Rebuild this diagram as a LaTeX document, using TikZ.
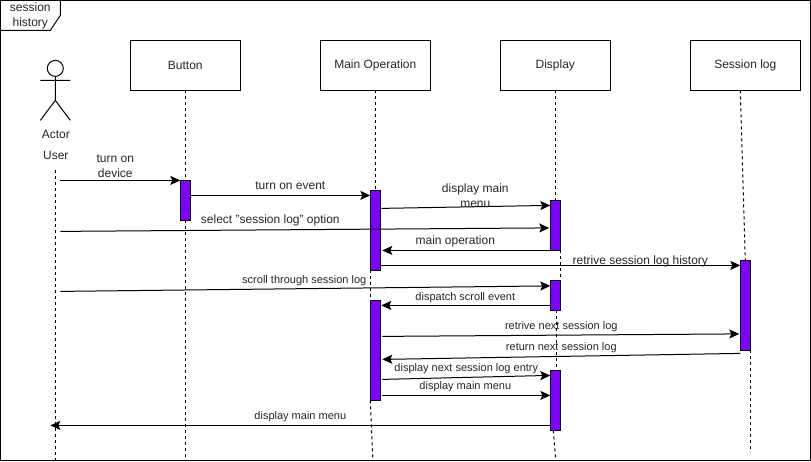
\documentclass[tikz,border=0pt]{standalone}
\usepackage{fontspec}
\setmainfont{Liberation Sans}
\usetikzlibrary{arrows.meta,positioning}
\definecolor{barpurple}{HTML}{7F00FF}
\tikzset{
    part/.style={draw, minimum width=110pt, minimum height=50pt, inner sep=0pt, outer sep=0pt, text=black!85, font=\fontsize{12}{14}\selectfont},
    bar/.style={draw, fill=barpurple, minimum width=10pt, inner sep=0pt, outer sep=0pt},
    life/.style={dash pattern=on 3pt off 3pt},
    msg/.style={line width=1pt, -{Stealth[length=10pt,width=9pt,inset=2pt]}},
    lbl/.style={inner sep=0pt, align=center, text=black!85, font=\fontsize{12}{14}\selectfont},
    small/.style={inner sep=0pt, align=center, text=black!85, font=\fontsize{11}{13}\selectfont}
}
\begin{document}
\begin{tikzpicture}[x=1pt, y=-1pt, line width=1pt]
    \useasboundingbox (-0.3,-0.4) rectangle (810.7,461.6);
    \draw (0.5,0.5) rectangle (810,460.5);
    \draw (0.5,30) -- (50,30) -- (60,15) -- (60,0.5);
    \node[lbl] (title) at (30,16) {session\\[1pt]history};

    % actor
    \draw (55,68) circle (8);
    \draw (55,76) -- (55,100) (40,80) -- (70,80) (40,120) -- (55,100) -- (70,120);
    \node[lbl] (actor) at (55.5,134) {Actor};
    \node[lbl] (user) at (55.5,155) {User};

    \node[part] (button) at (185,65) {Button};
    \node[part] (mainop) at (375,65) {Main Operation};
    \node[part] (display) at (555,65) {Display};
    \node[part] (sesslog) at (745,65) {Session log};

    \node[bar, minimum height=40pt] (btnA) at (185,200) {};
    \node[bar, minimum height=80pt] (mainA) at (375,230) {};
    \node[bar, minimum height=100pt] (mainB) at (375,350) {};
    \node[bar, minimum height=50pt] (dispA) at (555,225) {};
    \node[bar, minimum height=30pt] (dispB) at (555,295) {};
    \node[bar, minimum height=60pt] (dispC) at (555,400) {};
    \node[bar, minimum height=90pt] (logA) at (745,305) {};

    % lifelines
    \coordinate (userT) at (55,170);
    \coordinate (userE) at (55,460);
    \coordinate (btnE) at (185,460);
    \coordinate (mainE) at (372.5,460);
    \coordinate (dispE) at (555.5,460);
    \coordinate (logT) at (740,90);
    \coordinate (logE) at (750,452);
    \draw[life] (userT) -- (userE);
    \draw[life] (button) -- (btnA);
    \draw[life] (btnA) -- (btnE);
    \draw[life] (mainop) -- (mainA);
    \draw[life] (mainA.south west) -- (mainB.north west);
    \draw[life] (mainB.south west) -- (mainE);
    \draw[life] (display) -- (dispA);
    \draw[life] (dispA.south east) -- (dispB.north east);
    \draw[life] ([xshift=1pt]dispB.south) -- ([xshift=1pt]dispC.north);
    \draw[life] ([xshift=-2pt]dispC.south) -- (dispE);
    \draw[life] (logT) -- (logA.north);
    \draw[life] (logA.south east) -- (logE);

    % message ends
    \coordinate (m1a) at (60,180);    \coordinate (m1b) at (180,180);
    \coordinate (m2a) at (190,195);   \coordinate (m2b) at (370,195);
    \coordinate (m3a) at (381,208);   \coordinate (m3b) at (550,205);
    \coordinate (m4a) at (60,231);    \coordinate (m4b) at (549,227.5);
    \coordinate (m5a) at (550,250);   \coordinate (m5b) at (382,250);
    \coordinate (m6a) at (380,265);   \coordinate (m6b) at (740,265);
    \coordinate (m7a) at (60,291);    \coordinate (m7b) at (550,285.5);
    \coordinate (m8a) at (550,305);   \coordinate (m8b) at (381,305);
    \coordinate (m9a) at (382,336);   \coordinate (m9b) at (739,333.5);
    \coordinate (m10a) at (740,353);  \coordinate (m10b) at (382,359);
    \coordinate (m11a) at (382,379);  \coordinate (m11b) at (550,375);
    \coordinate (m12a) at (382,395);  \coordinate (m12b) at (550,395);
    \coordinate (m13a) at (550,425);  \coordinate (m13b) at (50,425);
    \draw[msg] (m1a) -- (m1b);
    \draw[msg] (m2a) -- (m2b);
    \draw[msg] (m3a) -- (m3b);
    \draw[msg] (m4a) -- (m4b);
    \draw[msg] (m5a) -- (m5b);
    \draw[msg] (m6a) -- (m6b);
    \draw[msg] (m7a) -- (m7b);
    \draw[msg] (m8a) -- (m8b);
    \draw[msg] (m9a) -- (m9b);
    \draw[msg] (m10a) -- (m10b);
    \draw[msg] (m11a) -- (m11b);
    \draw[msg] (m12a) -- (m12b);
    \draw[msg] (m13a) -- (m13b);

    \node[lbl] (t1) at (115,165.5) {turn on\\[1pt]device};
    \node[lbl] (t2) at (290,185.5) {turn on event};
    \node[lbl] (t3) at (475,195.5) {display main\\[1pt]menu};
    \node[lbl] (t4) at (270,220) {select "session log" option};
    \node[lbl] (t5) at (455,240.5) {main operation};
    \node[lbl] (t6) at (640,260.5) {retrive session log history};
    \node[small] (t7) at (304,280.5) {scroll through session log};
    \node[small] (t8) at (465,297) {dispatch scroll event};
    \node[small] (t9) at (561,326.5) {retrive next session log};
    \node[small] (t10) at (561,347.5) {return next session log};
    \node[small] (t11) at (466,368.5) {display next session log entry};
    \node[small] (t12) at (465,386.5) {display main menu};
    \node[small] (t13) at (300,416.5) {display main menu};
\end{tikzpicture}
\end{document}
